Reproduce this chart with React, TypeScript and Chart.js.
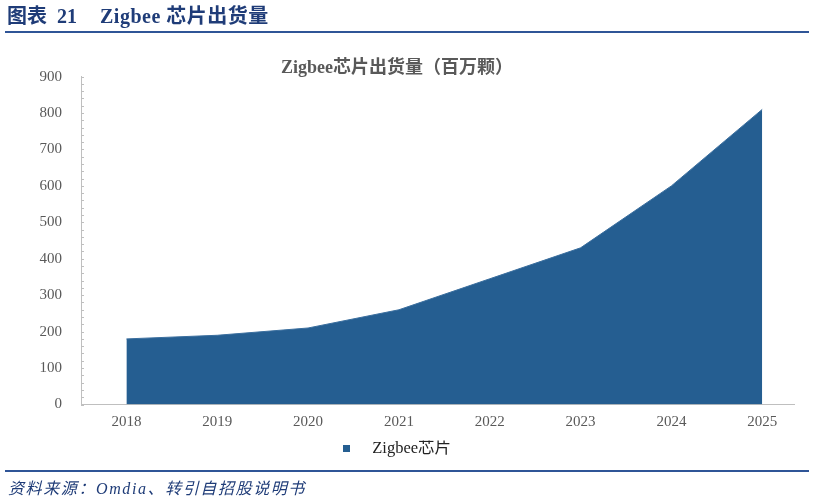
import React, { useEffect, useRef } from "react";
import { Chart, registerables } from "chart.js";

Chart.register(...registerables);

const years: number[] = [2018, 2019, 2020, 2021, 2022, 2023, 2024, 2025];
const shipments: number[] = [180, 190, 210, 260, 345, 430, 600, 810];
const yTicks: number[] = [0, 100, 200, 300, 400, 500, 600, 700, 800, 900];
const seriesName = "Zigbee芯片";
const chartTitle = "Zigbee芯片出货量（百万颗）";

const AREA = "#255E91";
const AXIS = "#BFBFBF";
const LABEL = "#595959";
const NAVY = "#1F3C78";
const RULE = "#2F5597";

const minorTicks = {
  id: "minorTicks",
  afterDatasetsDraw(chart: any) {
    const y = chart.scales.y;
    const left = chart.chartArea.left;
    const ctx = chart.ctx;
    ctx.save();
    ctx.strokeStyle = AXIS;
    ctx.lineWidth = 1;
    for (let v = 0; v <= 900; v += 20) {
      const py = Math.round(y.getPixelForValue(v)) + 0.5;
      ctx.beginPath();
      ctx.moveTo(left, py);
      ctx.lineTo(left + 3, py);
      ctx.stroke();
    }
    ctx.restore();
  },
};

function makeLegendMarker(): HTMLCanvasElement {
  const c = document.createElement("canvas");
  c.width = 21;
  c.height = 7;
  const g = c.getContext("2d")!;
  g.fillStyle = AREA;
  g.fillRect(0, 0, 7, 7);
  return c;
}

function ChartView() {
  const ref = useRef<HTMLCanvasElement | null>(null);
  useEffect(() => {
    if (!ref.current) return;
    const marker = makeLegendMarker();
    const chart = new Chart(ref.current, {
      type: "line",
      data: {
        datasets: [
          {
            label: seriesName,
            data: years.map((x, i) => ({ x, y: shipments[i] })),
            fill: "origin",
            backgroundColor: AREA,
            borderColor: "#3A6E9E",
            borderWidth: 1,
            pointRadius: 0,
            tension: 0,
            pointStyle: marker as any,
          },
        ],
      },
      options: {
        animation: false,
        responsive: false,
        devicePixelRatio: 1,
        layout: { padding: { left: 0, right: 20, top: 0, bottom: 35 } },
        plugins: {
          title: {
            display: true,
            text: chartTitle,
            color: LABEL,
            font: { family: "'Liberation Serif', 'Noto Sans CJK SC'", size: 18, weight: "bold" },
            padding: { top: 58, bottom: -3 },
          },
          legend: {
            position: "bottom",
            labels: {
              usePointStyle: true,
              pointStyleWidth: 21,
              color: "#222222",
              font: { family: "'Liberation Serif', 'Noto Sans CJK SC'", size: 16.5 },
              padding: 0,
            },
          },
          tooltip: { enabled: false },
        },
        scales: {
          x: {
            type: "linear",
            min: 2017.5,
            max: 2025.35,
            afterBuildTicks: (scale: any) => {
              scale.ticks = years.map((v) => ({ value: v }));
            },
            ticks: {
              callback: (v: any) => String(v),
              color: LABEL,
              font: { family: "'Liberation Serif'", size: 15 },
              padding: 9,
              maxRotation: 0,
              autoSkip: false,
            },
            grid: { display: false, drawTicks: false },
            border: { display: true, color: AXIS, width: 1 },
          },
          y: {
            min: 0,
            max: 900,
            afterBuildTicks: (scale: any) => {
              scale.ticks = yTicks.map((v) => ({ value: v }));
            },
            afterFit: (scale: any) => {
              scale.width = 81;
            },
            ticks: {
              color: LABEL,
              font: { family: "'Liberation Serif'", size: 15 },
              padding: 19,
            },
            grid: { display: false, drawTicks: false },
            border: { display: true, color: AXIS, width: 1 },
          },
        },
      },
      plugins: [minorTicks],
    });
    return () => chart.destroy();
  }, []);
  return (
    <canvas
      ref={ref}
      width={814}
      height={502}
      style={{ position: "absolute", left: 0, top: 0, width: 814, height: 502 }}
    />
  );
}

export default function App() {
  const serifCJK = "'Liberation Serif', 'Noto Sans CJK SC', serif";
  return (
    <div
      style={{
        position: "absolute",
        left: 0,
        top: 0,
        width: 814,
        height: 502,
        background: "#ffffff",
        overflow: "hidden",
      }}
    >
      <ChartView />
      <div style={{ position: "absolute", left: 7, top: 3, fontFamily: serifCJK, fontWeight: "bold", fontSize: 20, color: NAVY, lineHeight: "26px", whiteSpace: "pre" }}>
        图表
      </div>
      <div style={{ position: "absolute", left: 57, top: 3, fontFamily: serifCJK, fontWeight: "bold", fontSize: 20, color: NAVY, lineHeight: "26px", whiteSpace: "pre" }}>
        21
      </div>
      <div style={{ position: "absolute", left: 100, top: 3, fontFamily: serifCJK, fontWeight: "bold", fontSize: 20, color: NAVY, lineHeight: "26px", whiteSpace: "pre", letterSpacing: 0.5 }}>
        Zigbee 芯片出货量
      </div>
      <div style={{ position: "absolute", left: 5, top: 31, width: 804, height: 2, background: RULE }} />
      <div style={{ position: "absolute", left: 5, top: 470, width: 804, height: 2, background: RULE }} />
      <div style={{ position: "absolute", left: 8, top: 478, fontFamily: serifCJK, fontStyle: "italic", fontSize: 16, letterSpacing: 1.6, color: NAVY, lineHeight: "22px", whiteSpace: "pre" }}>
        资料来源：Omdia、转引自招股说明书
      </div>
    </div>
  );
}
